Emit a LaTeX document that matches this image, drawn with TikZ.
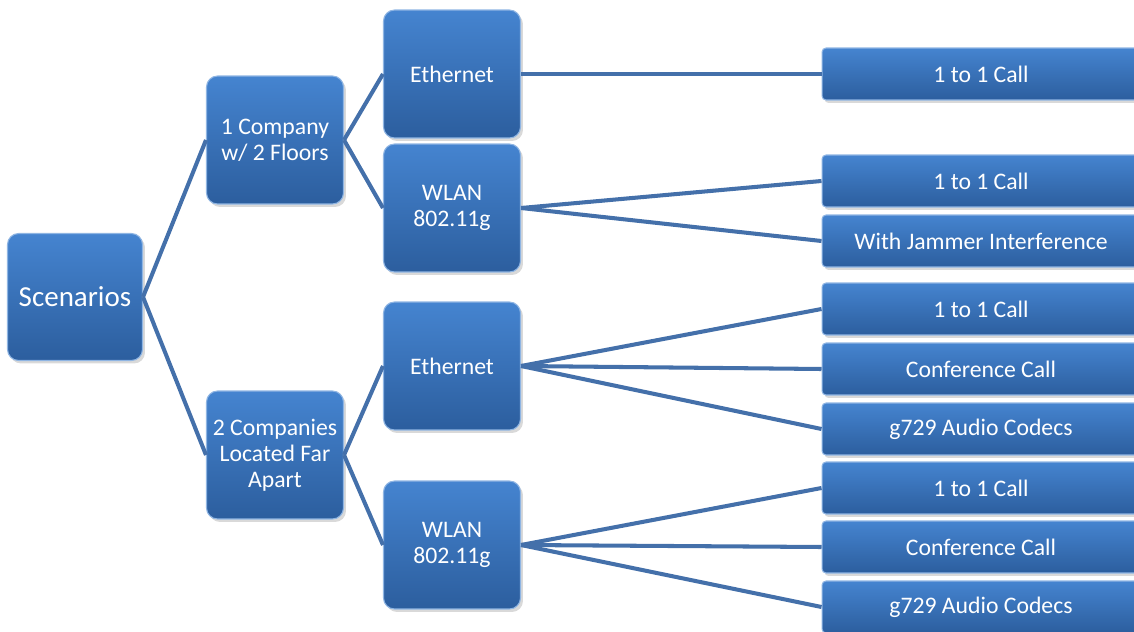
\documentclass[tikz,border=0pt]{standalone}
\usepackage{fontspec}
\setmainfont{Carlito}
\usetikzlibrary{shadows}

\definecolor{bleuhaut}{HTML}{4584D0}
\definecolor{bleubas}{HTML}{2C5E9E}
\definecolor{bleulien}{HTML}{4470AA}

\tikzstyle{bloc}=[rectangle, rounded corners=0.22cm, top color=bleuhaut, bottom color=bleubas, draw=bleuhaut!60!white, line width=0.6pt, text=white, align=center, font=\fontsize{13.5}{14.8}\selectfont, drop shadow={shadow xshift=0.05cm, shadow yshift=-0.06cm, opacity=0.3}]
\tikzstyle{racine}=[bloc, minimum width=2.7cm, minimum height=2.54cm, font=\fontsize{16.5}{20}\selectfont]
\tikzstyle{noeud}=[bloc, minimum width=2.74cm, minimum height=2.56cm]
\tikzstyle{feuille}=[bloc, rounded corners=0.08cm, minimum width=6.36cm, minimum height=1.04cm]
\tikzstyle{branche}=[draw=bleulien, line width=2.3pt]

\begin{document}
\begin{tikzpicture}[x=0.02cm, y=-0.02cm]
    \useasboundingbox (0,0) rectangle (1134,632);
    \clip (0,0) rectangle (1134,632);

    % racine et sites
    \node[racine] (scen) at (75,297) {Scenarios};
    \node[noeud] (site1) at (275,140) {1 Company\\w/ 2 Floors};
    \node[noeud] (site2) at (275,455) {2 Companies\\Located Far\\Apart};

    % reseaux
    \node[noeud] (eth1) at (452,74) {Ethernet};
    \node[noeud] (wlan1) at (452,208) {WLAN\\802.11g};
    \node[noeud] (eth2) at (452,366) {Ethernet};
    \node[noeud] (wlan2) at (452,545) {WLAN\\802.11g};

    % feuilles
    \node[feuille] (f1) at (981,74) {1 to 1 Call};
    \node[feuille] (f2) at (981,181) {1 to 1 Call};
    \node[feuille] (f3) at (981,241) {With Jammer Interference};
    \node[feuille] (f4) at (981,309) {1 to 1 Call};
    \node[feuille] (f5) at (981,369) {Conference Call};
    \node[feuille] (f6) at (981,429) {g729 Audio Codecs};
    \node[feuille] (f7) at (981,488) {1 to 1 Call};
    \node[feuille] (f8) at (981,547) {Conference Call};
    \node[feuille] (f9) at (981,607) {g729 Audio Codecs};

    % liens
    \draw[branche] (scen.east) -- (site1.west);
    \draw[branche] (scen.east) -- (site2.west);
    \draw[branche] (site1.east) -- (eth1.west);
    \draw[branche] (site1.east) -- (wlan1.west);
    \draw[branche] (site2.east) -- (eth2.west);
    \draw[branche] (site2.east) -- (wlan2.west);
    \draw[branche] (eth1.east) -- (f1.west);
    \draw[branche] (wlan1.east) -- (f2.west);
    \draw[branche] (wlan1.east) -- (f3.west);
    \draw[branche] (eth2.east) -- (f4.west);
    \draw[branche] (eth2.east) -- (f5.west);
    \draw[branche] (eth2.east) -- (f6.west);
    \draw[branche] (wlan2.east) -- (f7.west);
    \draw[branche] (wlan2.east) -- (f8.west);
    \draw[branche] (wlan2.east) -- (f9.west);
\end{tikzpicture}
\end{document}
